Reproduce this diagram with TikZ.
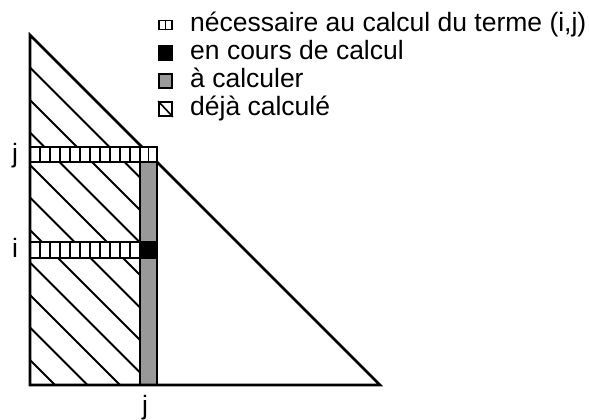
\documentclass[tikz,border=0pt]{standalone}
\usepackage{fontspec}
\setmainfont{Liberation Sans}
\usetikzlibrary{positioning}

\begin{document}
\begin{tikzpicture}[x=1pt, y=-1pt]
    \tikzstyle{outline} = [line width=2.6pt, line join=miter]
    \tikzstyle{hatch} = [line width=2pt]
    \tikzstyle{cell} = [draw=black, line width=1.4pt, fill=white]
    \tikzstyle{tocompute} = [draw=black, line width=1.6pt, fill=black!40]
    \tikzstyle{current} = [draw=black, line width=1.6pt, fill=black]
    \tikzstyle{icon} = [draw=black, line width=1.8pt, inner sep=0pt, minimum width=13pt, minimum height=14pt]
    \tikzstyle{legend} = [anchor=base west, inner sep=0pt, font=\fontsize{26.5}{30}\selectfont]
    \tikzstyle{index} = [anchor=base, inner sep=0pt, font=\fontsize{26.5}{30}\selectfont]

    \useasboundingbox (0,0) rectangle (589,420);

    \coordinate (apex) at (30,35);
    \coordinate (corner) at (30,385);
    \coordinate (right) at (380,385);
    \coordinate (hypin) at (142,147);
    \coordinate (hypout) at (157,162);

    % terms already computed (hatched)
    \begin{scope}
        \clip (apex) -- (140,145) -- (140,385) -- (corner) -- cycle;
        \foreach \c in {37.5,70,...,340}
            \draw [hatch] (0,\c) -- (400,400+\c);
    \end{scope}

    % column j
    \draw [tocompute] (140,162) rectangle (157,385);
    \draw [current] (140,242) rectangle (157,258);

    % rows j and i
    \foreach \k in {0,...,10} {
        \draw [cell] (30+10*\k,147) rectangle (40+10*\k,162);
        \draw [cell] (30+10*\k,242) rectangle (40+10*\k,258);
    }
    \draw [cell] (140,147) rectangle (148.5,162);
    \draw [cell] (148.5,147) rectangle (157,162);

    % triangle
    \draw [outline] (hypin) -- (apex) -- (corner) -- (right) -- (hypout);

    % indices
    \node (jrow) [index] at (15,162) {j};
    \node (irow) [index] at (15,257) {i};
    \node (jcol) [index] at (145,414) {j};

    % legend
    \node (needbox) [icon, fill=white, minimum height=9pt] at (165.5,25) {};
    \draw [line width=1.6pt] (needbox.north) -- (needbox.south);
    \node (curbox) [icon, fill=black] at (165.5,53) {};
    \node (todobox) [icon, fill=black!40] at (165.5,81) {};
    \node (donebox) [icon, fill=white] at (165.5,109) {};
    \draw [line width=1.6pt] (donebox.north west) -- (donebox.south east);

    \node (needtxt) [legend] at (190,31.5) {nécessaire au calcul du terme (i,j)};
    \node (curtxt) [legend] at (190,59.5) {en cours de calcul};
    \node (todotxt) [legend] at (190,87.5) {à calculer};
    \node (donetxt) [legend] at (190,115.5) {déjà calculé};
\end{tikzpicture}
\end{document}
